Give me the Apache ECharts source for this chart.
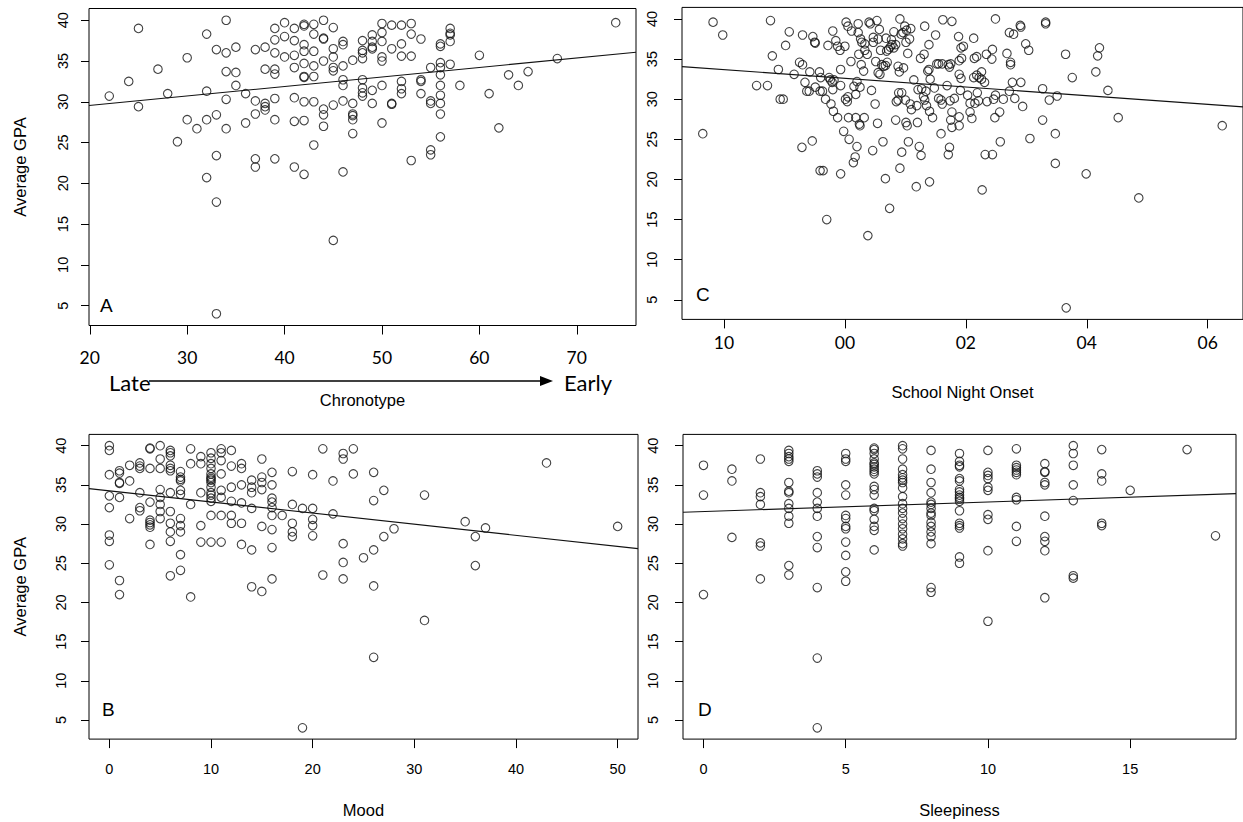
<!DOCTYPE html>
<html><head><meta charset="utf-8">
<script src="https://cdn.jsdelivr.net/npm/echarts@6/dist/echarts.min.js"></script>
<style>html,body{margin:0;padding:0;background:#fff}#c{width:1243px;height:822px}</style>
</head><body><div id="c"></div>
<script>
// ---------- DATA ----------
// Panel A: Chronotype vs Average GPA
const chronotypeGPA = [[22,30.7],[24,32.5],[25,39.0],[25,29.4],[27,34.0],[28,31.0],[29,25.1],[30,35.4],[30,27.8],[31,26.7],[32,38.3],[32,31.3],[32,27.8],[32,20.7],[33,36.4],[33,28.4],[33,23.4],[33,17.7],[33,4.0],[34,40.0],[34,36.0],[34,33.7],[34,30.3],[34,26.7],[35,36.7],[35,33.6],[35,32.0],[36,31.0],[36,27.4],[37,36.4],[37,30.1],[37,28.5],[37,23.0],[37,22.0],[38,36.7],[38,34.0],[38,29.8],[38,29.4],[38,29.0],[39,39.0],[39,37.6],[39,36.0],[39,34.0],[39,33.4],[39,30.4],[39,27.8],[39,23.0],[40,39.7],[40,38.0],[40,35.5],[41,39.0],[41,37.5],[41,35.7],[41,34.2],[41,30.5],[41,27.6],[41,22.0],[42,39.5],[42,39.3],[42,37.0],[42,36.2],[42,34.7],[42,33.1],[42,33.0],[42,30.0],[42,27.7],[42,21.1],[43,39.5],[43,38.3],[43,36.2],[43,34.4],[43,33.1],[43,30.0],[43,24.7],[44,40.0],[44,37.8],[44,37.7],[44,35.0],[44,29.1],[44,28.4],[44,27.0],[45,39.1],[45,36.5],[45,35.5],[45,34.2],[45,33.8],[45,29.6],[45,13.0],[46,37.4],[46,37.0],[46,34.4],[46,32.7],[46,32.0],[46,30.1],[46,21.4],[47,35.1],[47,29.8],[47,28.5],[47,28.3],[47,27.8],[47,26.1],[48,37.5],[48,36.3],[48,36.0],[48,35.3],[48,32.7],[48,31.7],[48,31.1],[48,30.7],[49,38.2],[49,37.4],[49,36.7],[49,36.5],[49,31.4],[49,29.8],[50,39.6],[50,38.5],[50,37.4],[50,35.5],[50,35.0],[50,32.0],[50,27.4],[51,39.4],[51,36.5],[51,29.8],[51,29.7],[52,39.4],[52,37.1],[52,35.6],[52,32.5],[52,31.6],[52,31.0],[53,39.6],[53,38.3],[53,35.6],[53,22.8],[54,37.7],[54,32.7],[54,32.5],[54,31.0],[55,34.2],[55,30.1],[55,29.8],[55,24.1],[55,23.5],[56,37.1],[56,36.8],[56,34.8],[56,34.2],[56,33.3],[56,32.0],[56,30.8],[56,29.8],[56,28.5],[56,25.7],[57,39.0],[57,38.4],[57,38.2],[57,37.4],[57,34.6],[58,32.0],[60,35.7],[61,31.0],[62,26.8],[63,33.3],[64,32.0],[65,33.7],[68,35.3],[74,39.7]];

// Panel C: School night onset (hours relative to midnight) vs Average GPA
const onsetGPA = [[-2.35,25.7],[-2.18,39.6],[-2.02,38.0],[-1.46,31.7],[-1.28,31.7],[-1.23,39.8],[-1.20,35.4],[-1.10,33.7],[-1.07,30.0],[-1.02,30.0],[-0.98,36.7],[-0.92,38.4],[-0.84,33.1],[-0.75,34.6],[-0.71,24.0],[-0.70,38.0],[-0.70,34.3],[-0.66,32.1],[-0.63,31.0],[-0.59,31.0],[-0.58,33.4],[-0.54,24.8],[-0.53,37.8],[-0.50,37.1],[-0.49,37.0],[-0.49,31.5],[-0.42,33.4],[-0.41,31.0],[-0.37,31.0],[-0.41,21.1],[-0.36,21.1],[-0.40,32.7],[-0.32,30.0],[-0.30,15.0],[-0.28,36.7],[-0.26,32.7],[-0.24,32.4],[-0.21,32.1],[-0.18,32.4],[-0.20,31.2],[-0.23,29.4],[-0.20,38.5],[-0.19,28.5],[-0.15,37.3],[-0.12,27.7],[-0.12,36.6],[-0.08,36.1],[-0.07,33.7],[-0.07,31.7],[-0.07,20.7],[-0.02,26.0],[0.00,36.6],[0.01,30.0],[0.04,29.7],[0.05,30.3],[0.02,39.6],[0.05,39.1],[0.06,27.7],[0.07,25.0],[0.10,34.7],[0.11,38.5],[0.14,22.1],[0.15,31.6],[0.17,22.8],[0.18,27.7],[0.18,30.6],[0.20,24.1],[0.20,32.2],[0.22,39.4],[0.22,38.3],[0.23,35.6],[0.24,26.9],[0.25,26.7],[0.25,31.5],[0.26,37.5],[0.27,34.3],[0.28,37.1],[0.31,33.5],[0.32,27.7],[0.33,36.9],[0.33,36.1],[0.37,35.6],[0.38,13.0],[0.40,39.6],[0.42,39.4],[0.44,31.1],[0.46,23.6],[0.47,37.1],[0.47,37.7],[0.50,29.4],[0.51,34.7],[0.53,39.8],[0.54,27.0],[0.55,33.3],[0.58,33.1],[0.55,37.5],[0.57,38.7],[0.59,36.1],[0.61,34.3],[0.64,34.1],[0.67,34.2],[0.70,34.6],[0.63,24.7],[0.67,20.1],[0.68,37.6],[0.69,36.0],[0.72,36.2],[0.75,36.5],[0.78,36.8],[0.81,36.4],[0.84,36.8],[0.74,16.4],[0.77,37.4],[0.81,38.4],[0.84,27.4],[0.85,29.7],[0.88,29.9],[0.88,34.1],[0.89,30.8],[0.94,30.8],[0.90,33.4],[0.91,40.0],[0.93,38.1],[0.94,23.4],[0.91,21.4],[0.96,38.3],[0.99,39.1],[1.02,38.6],[0.97,33.9],[1.00,29.9],[1.01,37.1],[1.01,27.1],[1.03,26.7],[1.04,35.7],[1.05,24.7],[1.07,37.5],[1.08,29.4],[1.09,38.8],[1.10,28.7],[1.14,32.4],[1.18,19.1],[1.19,29.2],[1.21,31.2],[1.20,27.1],[1.23,24.1],[1.25,35.1],[1.26,23.0],[1.27,31.3],[1.30,30.3],[1.32,29.9],[1.34,31.0],[1.32,39.1],[1.31,35.6],[1.35,29.2],[1.37,33.5],[1.39,33.7],[1.39,36.8],[1.40,19.7],[1.40,28.5],[1.41,32.5],[1.45,27.7],[1.48,31.4],[1.50,38.0],[1.52,34.4],[1.62,39.9],[1.77,39.7],[1.55,34.4],[1.61,34.4],[1.71,34.3],[1.75,34.4],[1.73,34.0],[1.69,31.7],[1.55,30.1],[1.59,29.9],[1.61,29.4],[1.74,29.8],[1.59,25.7],[1.73,24.0],[1.71,23.1],[1.77,28.4],[1.75,27.4],[1.77,26.5],[1.81,30.1],[1.88,37.8],[1.89,33.1],[1.92,32.6],[1.89,27.8],[1.89,26.7],[1.91,31.1],[1.89,34.8],[1.93,35.1],[1.92,36.4],[1.96,36.6],[2.03,30.5],[2.07,29.5],[2.07,28.4],[2.10,27.6],[2.15,29.5],[2.13,37.6],[2.14,35.1],[2.18,35.3],[2.13,32.7],[2.18,33.0],[2.22,32.7],[2.26,32.5],[2.31,32.1],[2.19,30.8],[2.21,29.8],[2.27,18.7],[2.26,33.4],[2.32,23.1],[2.44,23.1],[2.35,29.7],[2.34,35.6],[2.43,35.0],[2.44,36.2],[2.46,30.0],[2.49,30.5],[2.48,27.7],[2.49,40.0],[2.56,28.4],[2.57,24.7],[2.62,30.0],[2.68,35.7],[2.72,31.0],[2.72,38.3],[2.79,38.1],[2.74,34.6],[2.74,34.3],[2.77,32.1],[2.91,32.1],[2.81,30.1],[2.90,39.2],[2.91,39.0],[2.94,29.1],[2.99,36.9],[3.04,36.1],[3.06,25.1],[3.27,31.3],[3.27,27.4],[3.32,39.6],[3.32,39.4],[3.38,29.9],[3.48,25.7],[3.48,22.0],[3.51,30.4],[3.65,35.6],[3.66,4.0],[3.76,32.7],[3.99,20.7],[4.15,33.4],[4.18,35.4],[4.21,36.4],[4.35,31.1],[4.52,27.7],[4.86,17.7],[6.24,26.7]];

// Panel B: Mood vs Average GPA
const moodGPA = [[0,40.0],[0,39.4],[0,36.3],[0,33.6],[0,32.1],[0,28.6],[0,27.8],[0,24.8],[1,36.8],[1,36.5],[1,35.3],[1,35.2],[1,33.4],[1,22.8],[1,21.0],[2,37.5],[2,35.5],[2,30.7],[3,37.8],[3,37.4],[3,37.1],[3,34.0],[3,32.1],[3,31.7],[4,39.7],[4,39.6],[4,37.1],[4,32.8],[4,30.5],[4,30.2],[4,29.9],[4,29.6],[4,27.4],[5,40.0],[5,38.3],[5,37.1],[5,34.4],[5,33.4],[5,32.5],[5,31.6],[5,30.7],[6,39.4],[6,39.1],[6,38.7],[6,37.5],[6,37.1],[6,36.8],[6,34.0],[6,31.6],[6,30.1],[6,29.0],[6,27.8],[6,23.4],[7,36.7],[7,36.0],[7,35.7],[7,35.5],[7,34.3],[7,33.8],[7,30.7],[7,29.8],[7,29.0],[7,26.1],[7,24.1],[8,39.6],[8,37.7],[8,32.5],[8,20.7],[9,38.6],[9,37.7],[9,34.0],[9,29.8],[9,27.7],[10,39.1],[10,38.4],[10,37.7],[10,37.1],[10,36.4],[10,36.0],[10,35.8],[10,35.6],[10,35.3],[10,34.7],[10,34.0],[10,33.7],[10,33.3],[10,32.9],[10,31.1],[10,27.7],[11,39.6],[11,39.1],[11,38.1],[11,36.4],[11,34.3],[11,33.4],[11,31.1],[11,27.7],[12,39.4],[12,37.4],[12,34.7],[12,32.9],[12,31.1],[12,30.1],[13,37.7],[13,37.1],[13,35.0],[13,32.7],[13,30.1],[13,27.4],[14,35.6],[14,34.7],[14,34.0],[14,32.0],[14,26.7],[14,22.0],[15,38.3],[15,36.0],[15,35.3],[15,34.4],[15,29.7],[15,21.4],[16,36.6],[16,35.0],[16,33.3],[16,32.8],[16,32.1],[16,31.1],[16,29.3],[16,27.0],[16,23.0],[17,31.1],[18,36.7],[18,32.5],[18,30.1],[18,29.0],[18,28.4],[19,32.0],[19,4.0],[20,36.3],[20,32.0],[20,30.6],[20,29.8],[20,28.5],[21,39.6],[21,23.5],[22,35.5],[22,31.3],[23,39.0],[23,38.3],[23,27.5],[23,25.1],[23,23.0],[24,39.6],[24,36.4],[25,25.7],[26,36.6],[26,33.0],[26,26.7],[26,22.1],[26,13.0],[27,34.3],[27,28.4],[28,29.4],[31,33.7],[31,17.7],[35,30.3],[36,28.4],[36,24.7],[37,29.5],[43,37.8],[50,29.7]];

// Panel D: Sleepiness vs Average GPA
const sleepinessGPA = [[0,37.5],[0,33.7],[0,21.0],[1,37.0],[1,35.5],[1,28.3],[2,38.3],[2,34.0],[2,33.5],[2,32.5],[2,27.6],[2,27.2],[2,23.0],[3,39.4],[3,39.0],[3,38.6],[3,38.3],[3,38.0],[3,35.3],[3,34.2],[3,34.0],[3,32.6],[3,32.0],[3,31.0],[3,30.1],[3,24.7],[3,23.5],[4,36.8],[4,36.4],[4,36.0],[4,34.0],[4,32.8],[4,32.0],[4,31.0],[4,28.4],[4,27.0],[4,21.9],[4,12.9],[4,4.0],[5,39.0],[5,38.3],[5,38.0],[5,35.0],[5,33.7],[5,31.1],[5,30.7],[5,29.7],[5,29.4],[5,27.7],[5,26.0],[5,23.9],[5,22.7],[6,39.7],[6,39.5],[6,39.0],[6,38.3],[6,37.8],[6,37.6],[6,37.3],[6,37.0],[6,36.7],[6,36.4],[6,34.8],[6,34.4],[6,33.7],[6,32.0],[6,31.7],[6,30.6],[6,29.7],[6,29.2],[6,26.7],[7,40.0],[7,39.6],[7,38.3],[7,37.0],[7,36.3],[7,35.9],[7,35.6],[7,35.3],[7,34.6],[7,33.5],[7,32.6],[7,32.0],[7,31.4],[7,30.7],[7,30.0],[7,29.4],[7,28.7],[7,28.1],[7,27.5],[7,27.2],[8,39.4],[8,37.0],[8,35.3],[8,34.0],[8,32.8],[8,32.5],[8,32.0],[8,31.4],[8,31.1],[8,30.2],[8,29.7],[8,29.0],[8,28.4],[8,27.5],[8,21.9],[8,21.3],[9,39.0],[9,38.0],[9,37.5],[9,37.3],[9,35.8],[9,35.5],[9,34.4],[9,34.1],[9,33.7],[9,33.4],[9,33.2],[9,32.9],[9,31.7],[9,30.1],[9,29.8],[9,29.5],[9,25.8],[9,25.0],[10,39.4],[10,36.6],[10,36.2],[10,35.8],[10,34.7],[10,34.3],[10,31.2],[10,30.6],[10,26.6],[10,17.6],[11,39.6],[11,37.5],[11,37.2],[11,36.9],[11,36.6],[11,36.3],[11,33.4],[11,33.1],[11,29.7],[11,27.8],[12,37.7],[12,36.7],[12,36.6],[12,35.3],[12,35.0],[12,31.0],[12,28.4],[12,27.8],[12,26.6],[12,20.6],[13,40.0],[13,39.0],[13,37.5],[13,35.0],[13,33.0],[13,23.4],[13,23.1],[14,39.5],[14,36.4],[14,35.5],[14,30.1],[14,29.8],[15,34.3],[17,39.5],[18,28.5]];

// Tick values and labels
const gpaTicks = [5,10,15,20,25,30,35,40];
const chronotypeTicks = [20,30,40,50,60,70];
const onsetTicks = [-2,0,2,4,6];
const onsetTickLabels = ['10','00','02','04','06'];
const moodTicks = [0,10,20,30,40,50];
const sleepinessTicks = [0,5,10,15];

// Fitted regression lines: [intercept, slope]
const fitChronotype = [27.22, 0.1165];
const fitOnset = [32.60, -0.541];
const fitMood = [34.24, -0.1419];
const fitSleepiness = [31.59, 0.1222];

// ---------- CHART ----------
function rng(vals){const mn=Math.min(...vals),mx=Math.max(...vals),d=(mx-mn)*0.04;return [mn-d,mx+d];}
const gpaAll = chronotypeGPA.map(p=>p[1]);
const yR = rng(gpaAll);

const FONT = '"Liberation Sans", Arial, sans-serif';
const panels = [
  {data:chronotypeGPA, ticks:chronotypeTicks, fmt:null, fit:fitChronotype,
   grid:{left:89, top:8.5, width:547, height:317}, xName:'Chronotype', xNameGap:66,
   yName:'Average GPA', yMargin:19, xMargin:23, xFont:'Lato', xSize:17.5},
  {data:onsetGPA, ticks:onsetTicks, fmt:onsetTickLabels, fit:fitOnset,
   grid:{left:682, top:7.4, width:564, height:312}, xName:'School Night Onset', xNameGap:64,
   yName:'', yMargin:23, xMargin:14, xFont:'Lato', xSize:17.5},
  {data:moodGPA, ticks:moodTicks, fmt:null, fit:fitMood,
   grid:{left:89, top:434.4, width:549, height:304.7}, xName:'Mood', xNameGap:62,
   yName:'Average GPA', yMargin:21, xMargin:22, xFont:FONT, xSize:14.5},
  {data:sleepinessGPA, ticks:sleepinessTicks, fmt:null, fit:fitSleepiness,
   grid:{left:683, top:434.4, width:553, height:304.7}, xName:'Sleepiness', xNameGap:62,
   yName:'', yMargin:23, xMargin:22, xFont:FONT, xSize:14.5}
];

const grids=[], xAxes=[], yAxes=[], series=[];
panels.forEach((p,i)=>{
  const xr = rng(p.data.map(d=>d[0]));
  grids.push(Object.assign({show:true, borderColor:'#000', borderWidth:1, backgroundColor:'transparent', containLabel:false}, p.grid));
  xAxes.push({type:'value', gridIndex:i, min:xr[0], max:xr[1], position:'bottom',
    splitLine:{show:false}, axisLine:{show:false, onZero:false},
    axisTick:{show:true, inside:false, length:9, customValues:p.ticks, lineStyle:{color:'#000', width:1}},
    axisLabel:{customValues:p.ticks, color:'#000', fontSize:p.xSize, fontFamily:p.xFont, margin:p.xMargin,
      formatter: v => { if(p.fmt){const k=p.ticks.indexOf(v); return k>=0?p.fmt[k]:'';} return String(v);} },
    name:p.xName, nameLocation:'middle', nameGap:p.xNameGap,
    nameTextStyle:{color:'#000', fontSize:16.5, fontFamily:FONT}});
  yAxes.push({type:'value', gridIndex:i, min:yR[0], max:yR[1], position:'left',
    splitLine:{show:false}, axisLine:{show:false, onZero:false},
    axisTick:{show:true, inside:false, length:8, customValues:gpaTicks, lineStyle:{color:'#000', width:1}},
    axisLabel:{customValues:gpaTicks, rotate:90, color:'#000', fontSize:14.5, fontFamily:FONT, margin:p.yMargin},
    name:p.yName, nameLocation:'middle', nameGap:61, nameRotate:90,
    nameTextStyle:{color:'#000', fontSize:16.5, fontFamily:FONT}});
  series.push({type:'scatter', xAxisIndex:i, yAxisIndex:i, data:p.data, symbol:'circle', symbolSize:8.5,
    itemStyle:{color:'rgba(0,0,0,0)', borderColor:'#111', borderWidth:1.1}, silent:true});
  series.push({type:'line', xAxisIndex:i, yAxisIndex:i, showSymbol:false, silent:true,
    data:[[xr[0], p.fit[0]+p.fit[1]*xr[0]],[xr[1], p.fit[0]+p.fit[1]*xr[1]]],
    lineStyle:{color:'#111', width:1.1}});
});

const letter = (t,x,y)=>({type:'text', left:x, top:y, style:{text:t, font:'19px "Liberation Sans", Arial, sans-serif', fill:'#000'}});
const chart = echarts.init(document.getElementById('c'), null, {renderer:'svg'});
chart.setOption({
  animation:false, backgroundColor:'#fff',
  grid:grids, xAxis:xAxes, yAxis:yAxes, series:series,
  graphic:[
    letter('A',100,296), letter('C',696,285), letter('B',102,700), letter('D',698,700),
    {type:'text', left:109, top:371, style:{text:'Late', font:'22px Lato, sans-serif', fill:'#000'}},
    {type:'text', left:564, top:371, style:{text:'Early', font:'22px Lato, sans-serif', fill:'#000'}},
    {type:'line', shape:{x1:149, y1:381, x2:544, y2:381}, style:{stroke:'#000', lineWidth:1.5}},
    {type:'polygon', shape:{points:[[540,376],[553,381],[540,386]]}, style:{fill:'#000'}}
  ]
});
</script></body></html>
